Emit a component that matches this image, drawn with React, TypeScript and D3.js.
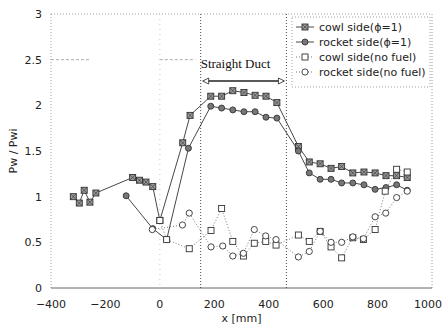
import * as d3 from "d3";

// x [mm] / Pw/Pwi
const cowlFuelX = [-318, -296, -278, -257, -235, -100, -75, -51, -26, 0, 84, 111, 187, 227, 268, 309, 350, 390, 430, 509, 549, 589, 629, 668, 709, 750, 791, 831, 870, 909];
const cowlFuelY = [1.0, 0.93, 1.07, 0.94, 1.04, 1.21, 1.18, 1.16, 1.11, 0.74, 1.59, 1.89, 2.1, 2.1, 2.16, 2.14, 2.11, 2.1, 2.03, 1.55, 1.38, 1.36, 1.31, 1.33, 1.26, 1.27, 1.26, 1.23, 1.23, 1.21];

const rocketFuelX = [-124, -26, 25, 105, 187, 227, 268, 309, 350, 390, 430, 509, 549, 589, 629, 668, 709, 750, 791, 831, 870, 909];
const rocketFuelY = [1.01, 0.65, 0.53, 1.53, 1.99, 1.97, 1.95, 1.93, 1.93, 1.87, 1.86, 1.5, 1.26, 1.19, 1.19, 1.15, 1.15, 1.13, 1.08, 1.1, 1.13, 1.07];

const cowlNoFuelX = [0, 25, 108, 188, 227, 268, 307, 347, 389, 427, 509, 549, 589, 629, 668, 709, 748, 791, 828, 870, 909];
const cowlNoFuelY = [0.74, 0.53, 0.43, 0.63, 0.87, 0.51, 0.35, 0.49, 0.51, 0.47, 0.58, 0.51, 0.62, 0.45, 0.33, 0.55, 0.53, 0.64, 1.06, 1.3, 1.27];

const rocketNoFuelX = [-28, 83, 108, 188, 231, 268, 307, 347, 389, 427, 509, 549, 589, 629, 668, 709, 748, 791, 830, 870, 909];
const rocketNoFuelY = [0.64, 0.69, 0.82, 0.45, 0.46, 0.35, 0.38, 0.64, 0.57, 0.53, 0.34, 0.4, 0.62, 0.5, 0.5, 0.56, 0.54, 0.78, 0.82, 0.99, 1.06];

const xTicks = [-400, -200, 0, 200, 400, 600, 800, 1000];
const yTicks = [0, 0.5, 1, 1.5, 2, 2.5, 3];
const ductStart = 150;
const ductEnd = 465;

type Pt = { x: number; y: number };
type Series = { name: string; xs: number[]; ys: number[]; marker: "sqX" | "dot" | "sq" | "circ"; solid: boolean };

const series: Series[] = [
  { name: "cowl side(\u03d5=1)", xs: cowlFuelX, ys: cowlFuelY, marker: "sqX", solid: true },
  { name: "rocket side(\u03d5=1)", xs: rocketFuelX, ys: rocketFuelY, marker: "dot", solid: true },
  { name: "cowl side(no fuel)", xs: cowlNoFuelX, ys: cowlNoFuelY, marker: "sq", solid: false },
  { name: "rocket side(no fuel)", xs: rocketNoFuelX, ys: rocketNoFuelY, marker: "circ", solid: false },
];

const W = 443;
const H = 325;
const margin = { top: 14, right: 11, bottom: 37, left: 51 };
const font = "'DejaVu Sans', sans-serif";

function Marker({ kind, cx, cy }: { kind: Series["marker"]; cx: number; cy: number }) {
  const s = 3;
  if (kind === "sqX") {
    return (
      <g>
        <rect x={cx - s} y={cy - s} width={2 * s} height={2 * s} fill="#999" stroke="#333" strokeWidth={0.9} />
        <path d={`M${cx - s},${cy - s}L${cx + s},${cy + s}M${cx + s},${cy - s}L${cx - s},${cy + s}`} stroke="#333" strokeWidth={0.6} />
      </g>
    );
  }
  if (kind === "dot") {
    return <circle cx={cx} cy={cy} r={3} fill="#777" stroke="#333" strokeWidth={0.9} />;
  }
  if (kind === "sq") {
    return <rect x={cx - s} y={cy - s} width={2 * s} height={2 * s} fill="#fff" stroke="#333" strokeWidth={0.9} />;
  }
  return <circle cx={cx} cy={cy} r={3.1} fill="#fff" stroke="#333" strokeWidth={0.9} />;
}

export default function App() {
  const x = d3.scaleLinear().domain([-400, 1000]).range([margin.left, W - margin.right]);
  const y = d3.scaleLinear().domain([0, 3]).range([H - margin.bottom, margin.top]);

  const line = d3.line<Pt>().x((d) => x(d.x)).y((d) => y(d.y));

  const x0 = x(-400);
  const x1 = x(1000);
  const y0 = y(0);
  const y1 = y(3);

  const legX = 292;
  const legY = 17;
  const legRow = 15;

  return (
    <svg width={W} height={H} style={{ position: "absolute", left: 0, top: 0, background: "#fff" }}>
      {/* frame */}
      <line x1={x0} x2={x0} y1={y1} y2={y0} stroke="#888" strokeWidth={0.8} strokeDasharray="1,2" />
      <line x1={x1} x2={x1} y1={y1} y2={y0} stroke="#888" strokeWidth={0.8} strokeDasharray="1,2" />
      <line x1={x0} x2={x1} y1={y1} y2={y1} stroke="#888" strokeWidth={0.8} strokeDasharray="1,2" />
      <line x1={x0} x2={x1} y1={y0} y2={y0} stroke="#666" strokeWidth={1} />
      {/* faint guides at x = 0 and y = 2.5 */}
      <line x1={x(0)} x2={x(0)} y1={y1} y2={y0} stroke="#aaa" strokeWidth={0.7} strokeDasharray="1,4" />
      <line x1={x0} x2={x(-260)} y1={y(2.5)} y2={y(2.5)} stroke="#999" strokeWidth={0.8} strokeDasharray="3,2" />
      <line x1={x(0)} x2={x(130)} y1={y(2.5)} y2={y(2.5)} stroke="#999" strokeWidth={0.8} strokeDasharray="3,2" />

      {/* straight duct bounds */}
      {[ductStart, ductEnd].map((d) => (
        <line key={d} x1={x(d)} x2={x(d)} y1={y1} y2={y0} stroke="#333" strokeWidth={0.9} strokeDasharray="1,2" />
      ))}
      <text x={x(ductStart)} y={y(2.5) + 8} fontFamily="'Liberation Serif', serif" fontSize={13} fill="#111">
        Straight Duct
      </text>
      <line x1={x(ductStart) + 3} x2={x(ductEnd) - 3} y1={81} y2={81} stroke="#222" strokeWidth={1.4} />
      <path d={`M${x(ductStart) + 2},81l6,-3v6z`} fill="#fff" stroke="#222" strokeWidth={0.8} />
      <path d={`M${x(ductEnd) - 2},81l-6,-3v6z`} fill="#fff" stroke="#222" strokeWidth={0.8} />

      {/* series */}
      {series.map((s) => {
        const pts: Pt[] = s.xs.map((xv, i) => ({ x: xv, y: s.ys[i] }));
        return (
          <g key={s.name}>
            <path
              d={line(pts) ?? ""}
              fill="none"
              stroke={s.solid ? "#333" : "#777"}
              strokeWidth={s.solid ? 0.9 : 1}
              strokeDasharray={s.solid ? undefined : "1,2"}
            />
            {pts.map((p, i) => (
              <Marker key={i} kind={s.marker} cx={x(p.x)} cy={y(p.y)} />
            ))}
          </g>
        );
      })}

      {/* axes labels */}
      {yTicks.map((t) => (
        <text key={t} x={x0 - 9} y={y(t) + 4} textAnchor="end" fontFamily={font} fontSize={11} fill="#222">
          {t}
        </text>
      ))}
      {xTicks.map((t) => (
        <text key={t} x={Math.min(x(t), W - 15)} y={y0 + 20} textAnchor="middle" fontFamily={font} fontSize={11} fill="#222">
          {t < 0 ? `\u2212${Math.abs(t)}` : t}
        </text>
      ))}
      <text x={(x0 + x1) / 2} y={H - 3} textAnchor="middle" fontFamily={font} fontSize={11} fill="#222">
        x [mm]
      </text>
      <text transform={`translate(17,${(y0 + y1) / 2}) rotate(-90)`} textAnchor="middle" fontFamily={font} fontSize={11} fill="#222">
        Pw / Pwi
      </text>

      {/* legend */}
      <rect x={legX} y={legY} width={138} height={70} fill="#fff" stroke="#888" strokeWidth={0.8} strokeDasharray="1,2" />
      {series.map((s, i) => {
        const cy = legY + 10 + i * legRow;
        return (
          <g key={s.name}>
            <line
              x1={legX + 4}
              x2={legX + 22}
              y1={cy}
              y2={cy}
              stroke={s.solid ? "#333" : "#777"}
              strokeWidth={s.solid ? 0.9 : 1}
              strokeDasharray={s.solid ? undefined : "1,2"}
            />
            <Marker kind={s.marker} cx={legX + 13} cy={cy} />
            <text x={legX + 27} y={cy + 4} fontFamily={font} fontSize={11} fill="#222">
              {s.name}
            </text>
          </g>
        );
      })}
    </svg>
  );
}
